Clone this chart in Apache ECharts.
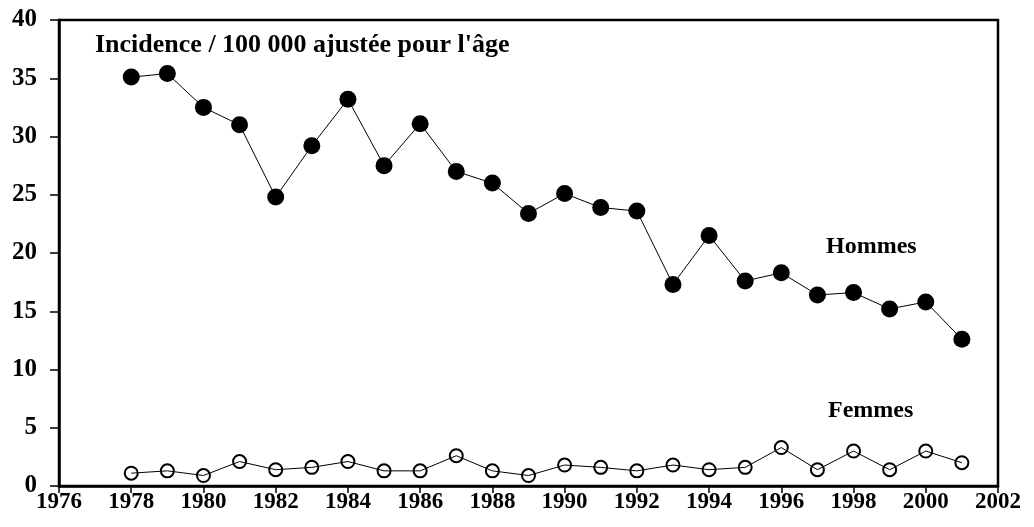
<!DOCTYPE html>
<html>
<head>
<meta charset="utf-8">
<script src="https://cdn.jsdelivr.net/npm/echarts@6/dist/echarts.min.js"></script>
<style>
  html, body { margin: 0; padding: 0; background: #fff; }
  #chart { width: 1034px; height: 527px; }
</style>
</head>
<body>
<div id="chart"></div>
<script>
const years = [1978, 1979, 1980, 1981, 1982, 1983, 1984, 1985, 1986, 1987, 1988, 1989,
  1990, 1991, 1992, 1993, 1994, 1995, 1996, 1997, 1998, 1999, 2000, 2001]
const hommes = [35.1, 35.4, 32.5, 31.0, 24.8, 29.2, 33.2, 27.5, 31.1, 27.0, 26.0, 23.4,
  25.1, 23.9, 23.6, 17.3, 21.5, 17.6, 18.3, 16.4, 16.6, 15.2, 15.8, 12.6]
const femmes = [1.1, 1.3, 0.9, 2.1, 1.4, 1.6, 2.1, 1.3, 1.3, 2.6, 1.3, 0.9,
  1.8, 1.6, 1.3, 1.8, 1.4, 1.6, 3.3, 1.4, 3.0, 1.4, 3.0, 2.0]
const seriesNames = ['Hommes', 'Femmes']
const yTitle = "Incidence / 100 000 ajustée pour l'âge"

const font = '"Liberation Serif", "Times New Roman", serif'
const chart = echarts.init(document.getElementById('chart'))

chart.setOption({
  animation: false,
  grid: {
    left: 59, top: 20, right: 36, bottom: 41,
    show: true, borderColor: '#000', borderWidth: 2.5
  },
  xAxis: {
    type: 'value',
    min: 1976, max: 2002, interval: 2,
    axisLine: { lineStyle: { color: '#000', width: 2.5 } },
    axisTick: { show: true, length: 7, lineStyle: { color: '#000', width: 1.5 } },
    axisLabel: {
      color: '#000', fontFamily: font, fontWeight: 'bold', fontSize: 23, margin: 5,
      formatter: v => String(v)
    },
    splitLine: { show: false }
  },
  yAxis: {
    type: 'value',
    min: 0, max: 40, interval: 5,
    axisLine: { show: true, lineStyle: { color: '#000', width: 2.5 } },
    axisTick: { show: true, length: 9, lineStyle: { color: '#000', width: 1.5 } },
    axisLabel: { color: '#000', fontFamily: font, fontWeight: 'bold', fontSize: 25, margin: 22 },
    splitLine: { show: false }
  },
  graphic: [
    { type: 'text', left: 95, top: 32, style: { text: yTitle, fill: '#000', font: 'bold 26px ' + font } },
    { type: 'text', left: 826, top: 235, style: { text: seriesNames[0], fill: '#000', font: 'bold 24px ' + font } },
    { type: 'text', left: 828, top: 399, style: { text: seriesNames[1], fill: '#000', font: 'bold 24px ' + font } }
  ],
  series: [
    {
      name: seriesNames[0],
      type: 'line',
      data: years.map((y, i) => [y, hommes[i]]),
      symbol: 'circle',
      symbolSize: 17,
      lineStyle: { color: '#000', width: 1 },
      itemStyle: { color: '#000' },
      z: 3
    },
    {
      name: seriesNames[1],
      type: 'line',
      data: years.map((y, i) => [y, femmes[i]]),
      symbol: 'circle',
      symbolSize: 13,
      lineStyle: { color: '#000', width: 1 },
      itemStyle: { color: 'rgba(0,0,0,0)', borderColor: '#000', borderWidth: 2 },
      z: 3
    }
  ]
})
</script>
</body>
</html>
